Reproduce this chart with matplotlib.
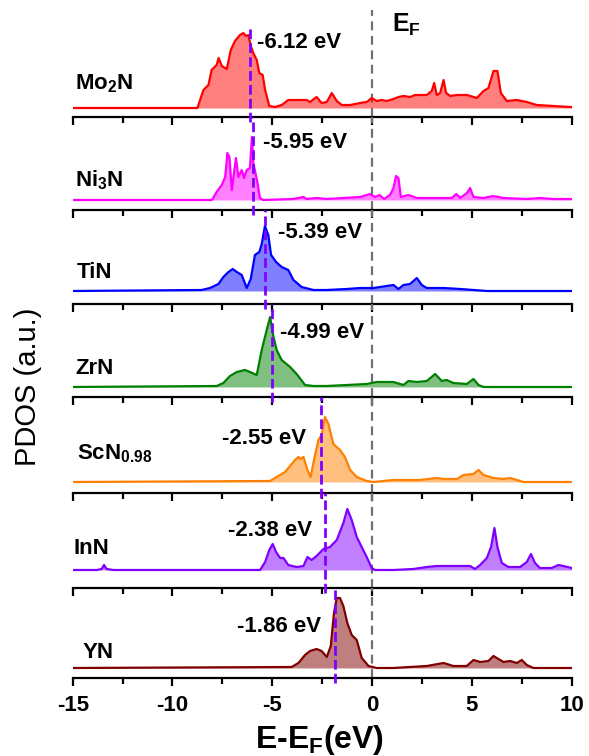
import matplotlib
matplotlib.use("Agg")
import matplotlib.pyplot as plt
from matplotlib.ticker import MultipleLocator

plt.rcParams['font.family'] = ['Liberation Sans', 'DejaVu Sans']
plt.rcParams['mathtext.fontset'] = 'custom'
plt.rcParams['mathtext.rm'] = 'Liberation Sans:bold'
plt.rcParams['mathtext.it'] = 'Liberation Sans:bold'
plt.rcParams['mathtext.bf'] = 'Liberation Sans:bold'

# ---------------- data ----------------
names = ["Mo$_2$N", "Ni$_3$N", "TiN", "ZrN", "ScN$_{0.98}$", "InN", "YN"]
dband_centers = [-6.12, -5.95, -5.39, -4.99, -2.55, -2.38, -1.86]
colors = ["#FF0000", "#FF00FF", "#0000FF", "#008000", "#FF8000", "#8000FF", "#800000"]

mo2n_E = [-15, -8.75, -8.45, -8.2, -8.04, -7.79, -7.69, -7.53, -7.28, -7.08, -6.87, -6.62, -6.45,
          -6.33, -6.2, -6.08, -5.95, -5.78, -5.65, -5.48, -5.36, -5.15, -4.86, -4.53, -4.2, -3.78,
          -3.28, -3.11, -2.78, -2.53, -2.27, -2.02, -1.77, -1.52, -1.1, -0.6, -0.27, -0.02, 0.23,
          0.48, 0.73, 1.07, 1.32, 1.57, 1.9, 2.15, 2.4, 2.74, 2.99, 3.11, 3.24, 3.41, 3.58, 3.71,
          3.91, 4.25, 4.75, 5.25, 5.58, 5.83, 6.08, 6.28, 6.45, 6.75, 7.25, 7.75, 8.25, 9.08, 9.92, 10]
mo2n_dos = [0, 0, 18, 23, 38, 43, 50, 42, 39, 58, 67, 73, 75,
            72, 73, 62, 55, 48, 35, 33, 18, 2, 1, 3, 8, 8,
            8, 6, 11, 5, 6, 15, 7, 3, 3, 5, 6, 10, 7,
            8, 7, 9, 11, 12, 11, 13, 13, 13, 17, 25, 13, 15, 28, 15,
            12, 13, 13, 10, 17, 20, 37, 37, 15, 7, 8, 6, 3, 2, 1, 1]

ni3n_E = [-15, -8.04, -7.99, -7.79, -7.53, -7.36, -7.25, -7.15, -7.03, -6.92, -6.82, -6.7, -6.53,
          -6.42, -6.28, -6.12, -6.02, -5.95, -5.75, -5.62, -5.45, -3.95, -3.44, -3.28, -2.78, -2.27,
          -1.43, -0.6, -0.1, 0.15, 0.37, 0.6, 0.9, 1.07, 1.2, 1.32, 1.44, 1.82, 2.24, 3.07, 3.99,
          4.22, 4.42, 4.75, 4.91, 5.08, 5.58, 6.08, 6.58, 7.75, 8.41, 9.08, 9.92, 10]
ni3n_dos = [0, 0, 1, 8, 15, 23, 47, 43, 10, 27, 42, 23, 30,
            22, 30, 32, 63, 37, 18, 2, 0, 1, 3, 1, 2, 1,
            2, 3, 6, 3, 5, 1, 5, 12, 24, 22, 3, 5, 2, 2, 2,
            6, 2, 7, 12, 3, 2, 4, 2, 1, 2, 1, 1, 1]

tin_E = [-15, -8.54, -8.12, -7.7, -7.45, -7.2, -6.98, -6.78, -6.53, -6.28, -6.08, -5.87, -5.65,
         -5.53, -5.37, -5.2, -5.06, -4.81, -4.53, -4.2, -3.94, -3.53, -2.94, -2.27, -1.27, -0.6,
         0.07, 0.73, 1.07, 1.32, 1.57, 1.9, 2.24, 2.49, 2.74, 3.58, 4.42, 5.08, 5.75, 10]
tin_dos = [0, 1, 3, 7, 14, 19, 22, 19, 16, 3, 12, 36, 39,
           47, 65, 56, 36, 29, 24, 21, 11, 4, 1, 1, 2, 3,
           3, 5, 6, 2, 6, 7, 13, 6, 3, 3, 2, 1, 0, 0]

zrn_E = [-15, -7.79, -7.45, -7.12, -6.78, -6.37, -6.12, -5.78, -5.53, -5.28, -5.11, -4.94, -4.78,
         -4.53, -4.11, -3.78, -3.36, -2.94, -2.27, -1.27, -0.27, 0.23, 1.07, 1.57, 1.82, 2.24,
         2.74, 3.16, 3.49, 3.74, 4.07, 4.74, 5.08, 5.33, 5.58, 10]
zrn_dos = [0, 1, 4, 11, 15, 17, 15, 12, 37, 57, 70, 50, 37,
           27, 20, 13, 2, 1, 1, 2, 3, 5, 5, 2, 6, 5,
           6, 13, 6, 7, 4, 3, 8, 2, 0, 0]

scn_E = [-15, -5.11, -4.78, -4.36, -4.11, -3.86, -3.69, -3.58, -3.44, -3.24, -3.08, -2.91, -2.69,
         -2.53, -2.36, -2.19, -1.94, -1.61, -1.36, -1.1, -0.77, -0.27, 0.07, 1.07, 2.4, 3.24,
         3.58, 4.25, 4.58, 5.08, 5.33, 5.58, 6.08, 6.58, 6.92, 7.25, 7.58, 10]
scn_dos = [0, 1, 5, 10, 16, 22, 25, 23, 25, 12, 5, 22, 42,
           47, 65, 58, 38, 32, 25, 12, 5, 1, 0, 2, 2, 4,
           3, 3, 7, 8, 12, 7, 4, 3, 4, 2, 0, 0]

inn_E = [-15, -13.8, -13.55, -13.43, -13.3, -12.96, -5.61, -5.36, -5.15, -4.98, -4.81, -4.61, -4.44,
         -4.2, -3.78, -3.44, -3.24, -3.03, -2.78, -2.44, -2.11, -1.77, -1.44, -1.24, -1.02, -0.77,
         -0.52, -0.27, -0.02, 0.15, 1.07, 2.07, 2.74, 3.24, 4.07, 4.91, 5.16, 5.41, 5.75, 5.96,
         6.13, 6.28, 6.5, 6.83, 7.41, 7.75, 7.96, 8.16, 8.41, 9.0, 9.33, 9.58, 10]
inn_dos = [0, 0, 1, 5, 1, 0, 0, 8, 20, 26, 18, 12, 12,
           5, 3, 4, 13, 10, 14, 21, 23, 30, 47, 61, 50, 33,
           23, 13, 2, 0, 0, 1, 3, 4, 4, 4, 1, 5, 12, 23,
           42, 23, 7, 3, 3, 8, 16, 7, 2, 2, 5, 4, 2]

yn_E = [-15, -4.03, -3.69, -3.36, -3.11, -2.78, -2.53, -2.27, -2.07, -1.91, -1.77, -1.61, -1.44,
        -1.24, -1.02, -0.77, -0.52, -0.18, 0.23, 1.07, 1.9, 2.74, 3.58, 4.07, 4.74, 5.08, 5.41,
        5.83, 6.08, 6.33, 6.58, 6.92, 7.25, 7.5, 7.75, 8.08, 10]
yn_dos = [0, 1, 5, 13, 17, 19, 17, 11, 22, 55, 70, 70, 62,
          45, 33, 28, 10, 2, 0, 0, 1, 2, 5, 2, 2, 8, 6,
          7, 12, 9, 6, 7, 5, 8, 3, 0, 0]

energies = [mo2n_E, ni3n_E, tin_E, zrn_E, scn_E, inn_E, yn_E]
dos_values = [mo2n_dos, ni3n_dos, tin_dos, zrn_dos, scn_dos, inn_dos, yn_dos]

xticks = [-15, -10, -5, 0, 5, 10]

# ---------------- layout (pixels) ----------------
W, H = 589, 756
x_left, x_right = 72.7, 571.7
tops = [23, 117, 210, 304, 397, 493, 588]
spines = [117, 210, 304, 397, 493, 588, 678]
base_off = [9, 10, 13, 10, 11, 18, 10]
name_pos = [(-14.88, 24.5), (-14.88, 20), (-14.78, 18), (-14.88, 18), (-14.78, 28), (-14.98, 21), (-14.53, 16)]
ann_pos = [(-5.77, 65), (-5.47, 57), (-4.71, 58), (-4.61, 54), (-7.52, 44), (-7.22, 40), (-6.77, 41)]
vline_top = [0.96, 1.0, 1.0, 1.0, 1.0, 1.0, 1.0]

fig = plt.figure(figsize=(W / 100, H / 100), dpi=100)

n = len(names)
for i in range(n):
    h = spines[i] - tops[i]
    ax = fig.add_axes([x_left / W, 1 - spines[i] / H, (x_right - x_left) / W, h / H])
    ax.patch.set_alpha(0)
    ax.set_xlim(-15, 10)
    ax.set_ylim(-base_off[i], h - base_off[i])
    col = colors[i]
    ax.fill_between(energies[i], dos_values[i], 0, color=col, alpha=0.5, lw=0, zorder=2)
    ax.plot(energies[i], dos_values[i], color=col, lw=1.6, zorder=3)
    # Fermi level
    ymax0 = 1.0 + (13 / h if i == 0 else 0)
    ax.axvline(0, ymin=0, ymax=ymax0, color="#707070", lw=1.6, dashes=(4, 2.5),
               clip_on=False, zorder=1)
    # d-band center
    ax.axvline(dband_centers[i], ymin=-0.05, ymax=vline_top[i], color="#8000FF", lw=2.0,
               dashes=(3.5, 1.5), clip_on=False, zorder=4)
    ax.text(name_pos[i][0], name_pos[i][1], names[i], fontsize=16, fontweight="bold",
            va="center", ha="left")
    ax.text(ann_pos[i][0], ann_pos[i][1], f"{dband_centers[i]:.2f} eV", fontsize=16,
            fontweight="bold", va="center", ha="left")
    for s in ["left", "right", "top"]:
        ax.spines[s].set_visible(False)
    ax.spines["bottom"].set_linewidth(1.6)
    ax.set_yticks([])
    ax.set_xticks(xticks)
    ax.xaxis.set_minor_locator(MultipleLocator(2.5))
    ax.tick_params(axis="x", which="major", direction="out", length=6, width=1.6, pad=6,
                   labelsize=16)
    ax.tick_params(axis="x", which="minor", direction="out", length=4, width=1.6)
    if i < n - 1:
        ax.tick_params(axis="x", labelbottom=False)
    else:
        ax.set_xticklabels([str(t) for t in xticks], fontweight="bold")

fig.text(320 / W, 1 - 748 / H, "E-E$_F$(eV)", fontsize=23, fontweight="bold",
         ha="center", va="baseline")
fig.text(28 / W, 1 - 387 / H, "PDOS (a.u.)", fontsize=21, rotation=90,
         ha="center", va="center")
fig.text(392 / W, 1 - 32 / H, "E$_F$", fontsize=18, fontweight="bold",
         ha="left", va="baseline")

fig.savefig("out.png", dpi=100)
